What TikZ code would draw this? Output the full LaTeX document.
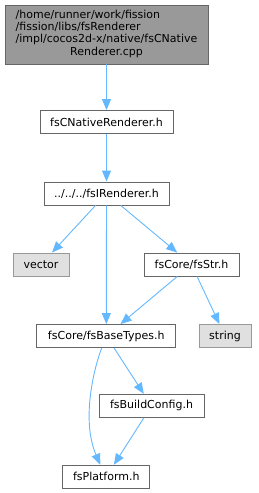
\documentclass[tikz,border=0pt]{standalone}
\usepackage{fontspec}
\setmainfont{DejaVu Sans}
\usetikzlibrary{arrows.meta}
\definecolor{edgeblue}{HTML}{63B8FF}
\definecolor{boxborder}{HTML}{666666}
\definecolor{topfill}{HTML}{999999}
\definecolor{extfill}{HTML}{E0E0E0}
\definecolor{extborder}{HTML}{999999}
\tikzset{
  file/.style={draw=boxborder, fill=white, line width=0.9pt, inner sep=0pt, minimum height=23pt, font=\fontsize{11}{12.1}\selectfont},
  ext/.style={file, draw=extborder, fill=extfill},
  topbox/.style={file, fill=topfill, minimum height=59pt, minimum width=203pt},
  dep/.style={draw=edgeblue, line width=0.9pt, -{Triangle[length=11pt,width=9pt]}},
}
\begin{document}
\begin{tikzpicture}[x=1pt,y=-1pt]
\useasboundingbox (0,0) rectangle (259,493);
\node[topbox] (top) at (106.5,34.5) {\begin{tabular}{@{}l@{}}/home/runner/work/fission\\/fission/libs/fsRenderer\\/impl/cocos2d-x/native/fsCNative\\\multicolumn{1}{@{}c@{}}{Renderer.cpp}\end{tabular}};
\node[file, minimum width=133pt] (cnr) at (106.5,122) {fsCNativeRenderer.h};
\node[file, minimum width=125pt] (irn) at (106.5,193.5) {../../../fsIRenderer.h};
\node[ext, minimum width=56pt] (vec) at (41,264.5) {vector};
\node[file, minimum width=95pt] (str) at (191.5,264.5) {fsCore/fsStr.h};
\node[file, minimum width=139pt] (bt) at (106.3,336) {fsCore/fsBaseTypes.h};
\node[ext, minimum width=52pt] (strg) at (225,336) {string};
\node[file, minimum width=105pt] (bc) at (151.5,405.8) {fsBuildConfig.h};
\node[file, minimum width=87pt] (pf) at (106.3,476.7) {fsPlatform.h};
\draw[dep] (top) -- (cnr);
\draw[dep] (cnr) -- (irn);
\draw[dep] (irn) -- (vec);
\draw[dep] (irn) -- (str);
\draw[dep] (irn) -- (bt);
\draw[dep] (str) -- (bt);
\draw[dep] (str) -- (strg);
\draw[dep] (bt) -- (bc);
\draw[dep] (bc) -- (pf);
\draw[dep] ([xshift=-4.6pt]bt.south) .. controls (94,368) and (81,420) .. ([xshift=-6pt]pf.north);
\end{tikzpicture}
\end{document}
